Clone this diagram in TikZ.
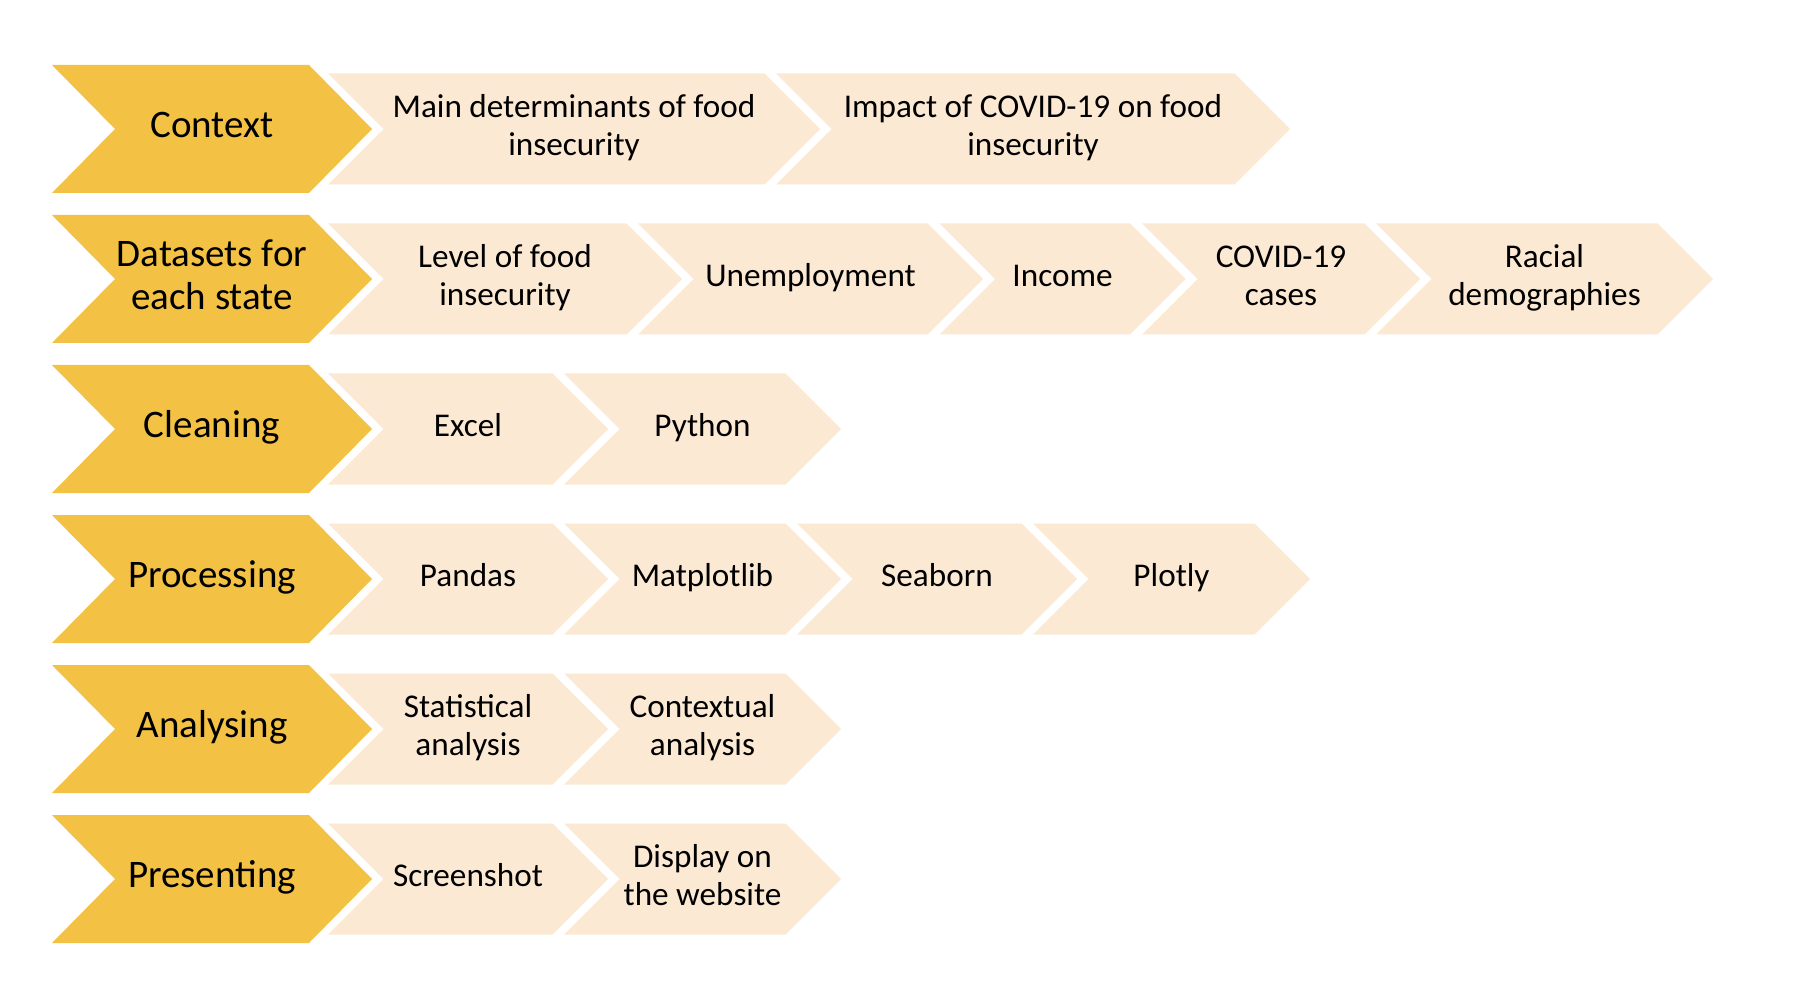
\documentclass[tikz,border=0pt]{standalone}
\usepackage{fontspec}
\setmainfont{Carlito}
\usepackage{tikz}
\usetikzlibrary{calc}
\usepackage{xcolor}
\definecolor{stagegold}{RGB}{243, 193, 67}
\definecolor{toolpeach}{RGB}{251, 233, 211}
\tikzset{
  stagetxt/.style  = {align=center, text=black, font=\fontsize{19.5}{21.5}\selectfont},
  tooltxt/.style   = {align=center, text=black, font=\fontsize{16.6}{19}\selectfont},
  stagefill/.style = {fill=stagegold},
  toolfill/.style  = {fill=toolpeach},
}
% 左侧主箭头：名字、行中心y、文字
\newcommand{\stagechev}[3]{%
  \fill[stagefill] (52,#2-64) -- (309,#2-64) -- (372,#2) -- (309,#2+64) -- (52,#2+64) -- (115,#2) -- cycle;
  \node[stagetxt] (#1) at (212,#2) {\strut#3\strut};}
% 右侧子箭头：名字、左端x、尖端x、行中心y、文字
\newcommand{\toolchev}[5]{%
  \fill[toolfill] (#2,#4-55.5) -- (#3-55.5,#4-55.5) -- (#3,#4) -- (#3-55.5,#4+55.5) -- (#2,#4+55.5) -- (#2+55.5,#4) -- cycle;
  \node[tooltxt] (#1) at ({(#2+#3)/2},#4) {\strut#5\strut};}

\begin{document}
\begin{tikzpicture}[x=0.5pt, y=-0.5pt]
  % 边界框：与原图同尺寸
  \useasboundingbox (0,0) rectangle (1818,988);

  % 背景
  \stagechev{context}{129}{Context}
  \toolchev{determ}{328}{820}{129}{Main determinants of food\\insecurity}
  \toolchev{impact}{776}{1290}{129}{Impact of COVID-19 on food\\insecurity}

  % 数据集
  \stagechev{datasets}{279}{Datasets for\\each state}
  \toolchev{level}{328}{682}{279}{Level of food\\insecurity}
  \toolchev{unemp}{638}{983}{279}{Unemployment}
  \toolchev{income}{939.5}{1185.5}{279}{Income}
  \toolchev{cases}{1142}{1420}{279}{COVID-19\\cases}
  \toolchev{racial}{1376}{1713}{279}{Racial\\demographies}

  % 清洗
  \stagechev{cleaning}{429}{Cleaning}
  \toolchev{excel}{328}{608}{429}{Excel}
  \toolchev{python}{564}{841}{429}{Python}

  % 处理
  \stagechev{processing}{579}{Processing}
  \toolchev{pandas}{328}{608}{579}{Pandas}
  \toolchev{matplot}{564}{841}{579}{Matplotlib}
  \toolchev{seaborn}{797}{1077}{579}{Seaborn}
  \toolchev{plotly}{1033}{1310}{579}{Plotly}

  % 分析
  \stagechev{analysing}{729}{Analysing}
  \toolchev{statist}{328}{608}{729}{Statistical\\analysis}
  \toolchev{context2}{564}{841}{729}{Contextual\\analysis}

  % 展示
  \stagechev{presenting}{879}{Presenting}
  \toolchev{screen}{328}{608}{879}{Screenshot}
  \toolchev{website}{564}{841}{879}{Display on\\the website}

\end{tikzpicture}
\end{document}
